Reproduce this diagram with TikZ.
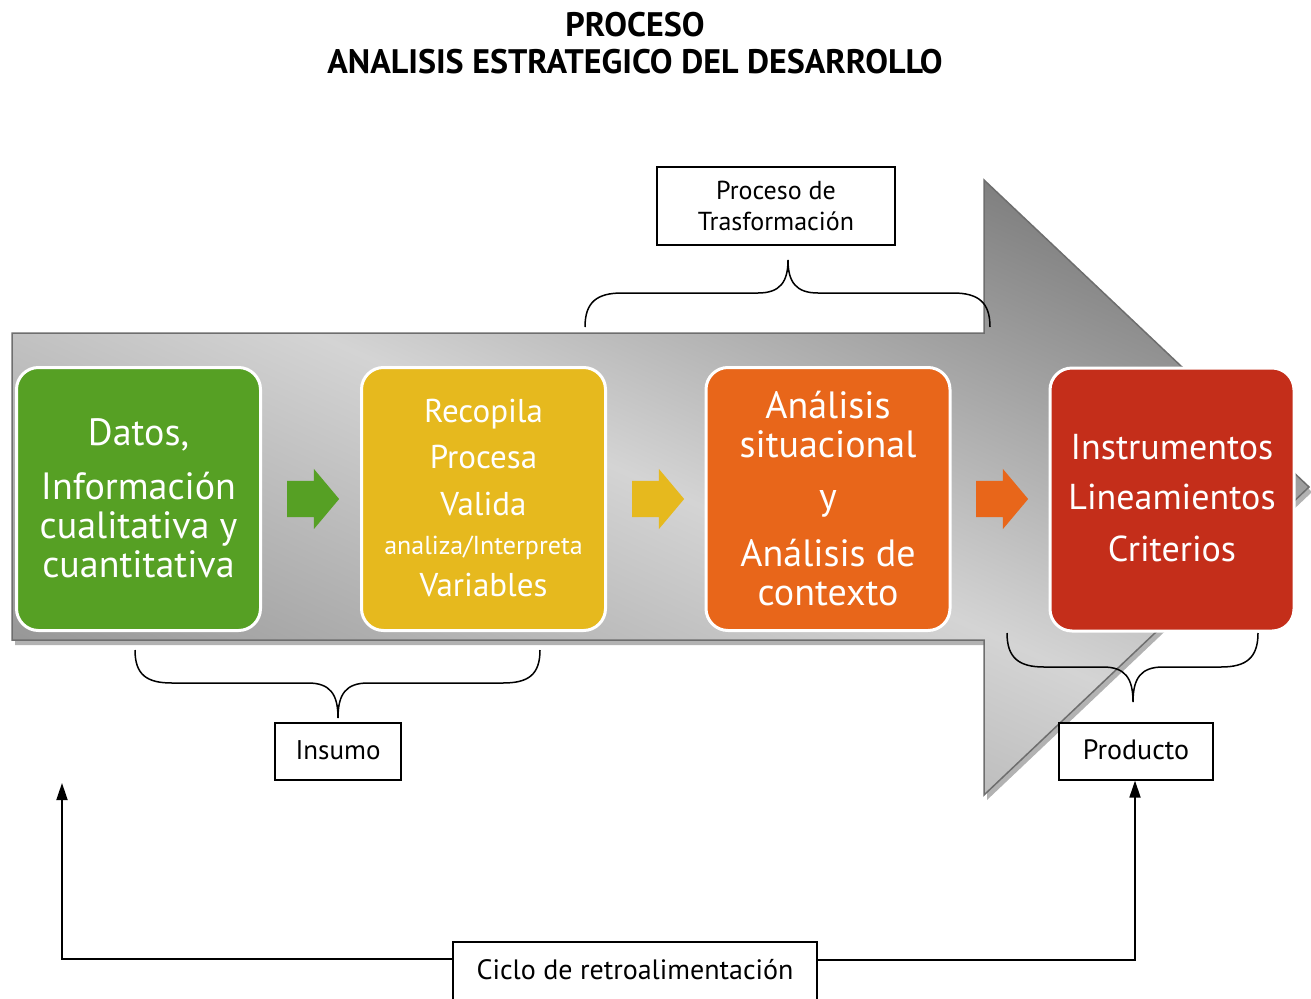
\documentclass[tikz,border=0pt]{standalone}
\usepackage{fontspec}
\setmainfont{PT Sans}
\usetikzlibrary{shadows,arrows.meta,shapes.arrows}
\definecolor{cgreen}{RGB}{86,160,36}
\definecolor{cyellow}{RGB}{230,185,30}
\definecolor{corange}{RGB}{232,102,26}
\definecolor{cred}{RGB}{196,46,26}
\definecolor{arrowedge}{RGB}{110,110,110}
\definecolor{ardark}{RGB}{128,128,128}
\definecolor{arlight}{RGB}{212,212,212}
\definecolor{armid}{RGB}{150,150,150}
\begin{document}
\begin{tikzpicture}[x=1pt,y=-1pt,
  bigarrow/.style={draw=arrowedge, line width=1.5pt, top color=ardark, bottom color=armid, middle color=arlight, shading angle=-24,
    drop shadow={shadow xshift=3pt, shadow yshift=-5pt, opacity=0.3, fill=black}},
  stage/.style={draw=white, line width=3pt, rounded corners=22pt, fill=#1, text=white, inner sep=0pt, minimum width=244pt, minimum height=263pt},
  smallarrow/.style={single arrow, fill=#1, draw=none, inner xsep=0pt, inner ysep=18pt, minimum height=52pt, single arrow head extend=12pt, single arrow tip angle=100},
  labelbox/.style={draw=black, line width=1.2pt, fill=white, inner sep=0pt, align=center},
  brace/.style={draw=black, line width=1.5pt},
  fbline/.style={draw=black, line width=1.8pt},
  fbarrow/.style={fbline, -{Triangle[width=11pt,length=17pt]}},
  title/.style={font=\fontsize{34}{40}\bfseries\selectfont, inner sep=0pt}
]
\useasboundingbox (0,0) rectangle (1311,998);
% title
\node[title] (t1) at (635,25) {PROCESO};
\node[title] (t2) at (635,62) {ANALISIS ESTRATEGICO DEL DESARROLLO};
% big arrow
\path[bigarrow] (12,333) -- (984,333) -- (984,180) -- (1309,487) -- (984,795) -- (984,640) -- (12,640) -- cycle;
% stage boxes
\node[stage=cgreen] (datos) at (138.5,499) {\parbox[c][263pt][t]{244pt}{\centering\fontsize{38}{39}\selectfont
  \vspace*{41.5pt}\rule{0pt}{36pt}Datos,\\[15pt]Información\\cualitativa y\\cuantitativa}};
\node[stage=cyellow] (recopila) at (483.5,499) {\parbox[c][263pt][t]{244pt}{\centering\fontsize{33}{46}\selectfont
  \vspace*{18.5pt}\rule{0pt}{36pt}Recopila\\Procesa\\[1pt]Valida\\[-7pt]{\fontsize{26}{30}\selectfont analiza/Interpreta}\\[-4pt]Variables}};
\node[stage=corange] (analisis) at (828,499) {\parbox[c][263pt][t]{244pt}{\centering\fontsize{38}{39}\selectfont
  \vspace*{14.5pt}\rule{0pt}{36pt}Análisis\\situacional\\[13pt]y\\[18pt]Análisis de\\contexto}};
\node[stage=cred] (instrumentos) at (1172,499.5) {\parbox[c][263pt][t]{244pt}{\centering\fontsize{36}{50}\selectfont
  \vspace*{55.5pt}\rule{0pt}{36pt}Instrumentos\\Lineamientos\\[2pt]Criterios}};
% small arrows
\node[smallarrow=cgreen] (a1) at (305.5,499) {};
\node[smallarrow=cyellow] (a2) at (650.5,499) {};
\node[smallarrow=corange] (a3) at (994.5,499) {};
% label boxes
\node[labelbox, minimum width=238pt, minimum height=78pt, font=\fontsize{26}{31}\selectfont] (trasf) at (776,206) {Proceso de\\Trasformación};
\node[labelbox, minimum width=126pt, minimum height=57pt, font=\fontsize{27}{31}\selectfont] (insumo) at (338,751.5) {\raisebox{3pt}{Insumo}};
\node[labelbox, minimum width=154pt, minimum height=57pt, font=\fontsize{28}{31}\selectfont] (producto) at (1136,751.5) {\raisebox{3pt}{Producto}};
\node[labelbox, minimum width=364pt, minimum height=80pt, font=\fontsize{28}{31}\selectfont] (ciclo) at (635,982) {\raisebox{25pt}{Ciclo de retroalimentación}};
% braces
\coordinate (bT) at (788,260);
\coordinate (bI) at (338,718);
\coordinate (bP) at (1133,702);
\draw[brace] (585,327) .. controls (585,302) and (597,293) .. (622,293) -- (758,293) .. controls (780,293) and (788,282) .. (bT)
  .. controls (788,282) and (796,293) .. (818,293) -- (953,293) .. controls (978,293) and (990,302) .. (990,327);
\draw[brace] (135,650) .. controls (135,675) and (147,683) .. (172,683) -- (308,683) .. controls (330,683) and (338,694) .. (bI)
  .. controls (338,694) and (346,683) .. (368,683) -- (503,683) .. controls (528,683) and (540,675) .. (540,650);
\draw[brace] (1007,633) .. controls (1007,658) and (1019,667) .. (1044,667) -- (1103,667) .. controls (1125,667) and (1133,678) .. (bP)
  .. controls (1133,678) and (1141,667) .. (1163,667) -- (1221,667) .. controls (1246,667) and (1258,658) .. (1258,633);
% feedback loop
\coordinate (fbL) at (62,783);
\coordinate (fbLc) at (62,959);
\coordinate (fbRc) at (1135,960);
\draw[fbarrow] (ciclo.west |- fbLc) -- (fbLc) -- (fbL);
\draw[fbarrow] (ciclo.east |- fbRc) -- (fbRc) -- (fbRc |- producto.south);
\end{tikzpicture}
\end{document}
